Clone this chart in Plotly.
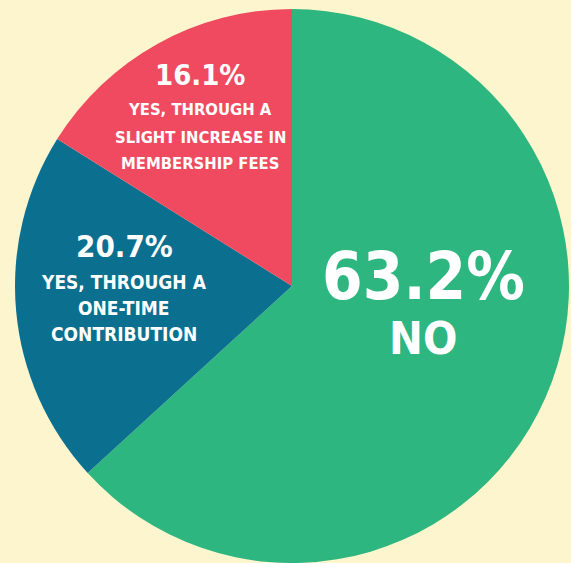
import plotly.graph_objects as go

labels = ["NO", "YES, THROUGH A ONE-TIME CONTRIBUTION", "YES, THROUGH A SLIGHT INCREASE IN MEMBERSHIP FEES"]
values = [63.2, 20.7, 16.1]
colors = ["#2DB67F", "#0B7090", "#EF4A5F"]
pct_text = ["63.2%", "20.7%", "16.1%"]
label_lines = [["NO"], ["YES, THROUGH A", "ONE-TIME", "CONTRIBUTION"],
               ["YES, THROUGH A", "SLIGHT INCREASE IN", "MEMBERSHIP FEES"]]

W, H = 571, 563
BG = "#FCF5CD"
FONT = "DejaVu Sans Condensed, Liberation Sans Narrow, Roboto Condensed, sans-serif"

fig = go.Figure(go.Pie(
    labels=labels, values=values, sort=False, direction="clockwise", rotation=0,
    marker=dict(colors=colors, line=dict(width=0)),
    textinfo="none", hoverinfo="label+percent", showlegend=False,
    domain=dict(x=[15 / W, 569 / W], y=[0, 554 / H]),
))

# label layout: (center x px, pct center y px, pct size, first line y, line step, line size)
layout_spec = [
    (423, 276, 65, 338, 0, 45),
    (124, 246, 31, 282, 26, 19),
    (200, 75, 29, 110, 27, 16.5),
]
ann = []
for i in range(len(values)):
    cx, py, ps, ly, step, ls = layout_spec[i]
    ann.append(dict(x=cx / W, y=1 - py / H, xref="paper", yref="paper", text="<b>%s</b>" % pct_text[i],
                    showarrow=False, xanchor="center", yanchor="middle",
                    font=dict(family=FONT, size=ps, color="white")))
    for j, line in enumerate(label_lines[i]):
        ann.append(dict(x=cx / W, y=1 - (ly + j * step) / H, xref="paper", yref="paper",
                        text="<b>%s</b>" % line, showarrow=False, xanchor="center", yanchor="middle",
                        font=dict(family=FONT, size=ls, color="white")))

fig.update_layout(width=W, height=H, margin=dict(l=0, r=0, t=0, b=0),
                  paper_bgcolor=BG, plot_bgcolor=BG, annotations=ann)
fig.write_html("out.html")
